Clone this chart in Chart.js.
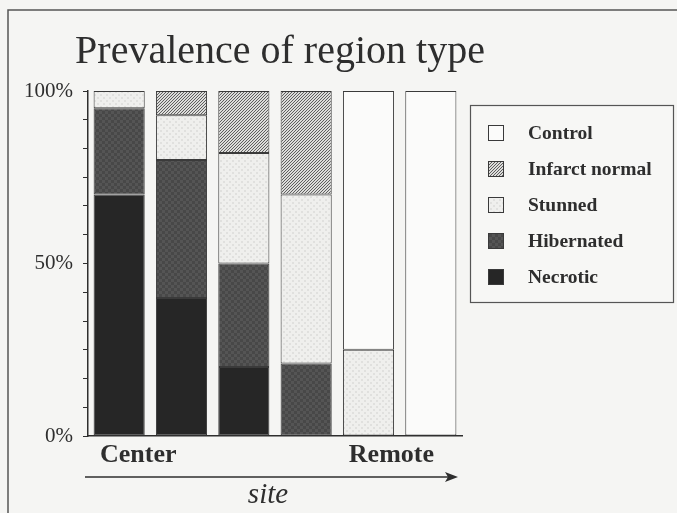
<!DOCTYPE html>
<html>
<head>
<meta charset="utf-8">
<script src="https://cdn.jsdelivr.net/npm/chart.js@4/dist/chart.umd.min.js"></script>
<style>
html,body{margin:0;padding:0;background:#f5f5f3;}
canvas{display:block;}
</style>
</head>
<body>
<canvas id="c" width="677" height="513"></canvas>
<script>
// ---- data ----
const categories = ['1', '2', '3', '4', '5', '6'];
const necrotic     = [70, 40, 20, 0, 0, 0];
const hibernated   = [25, 40, 30, 21, 0, 0];
const stunned      = [5, 13, 32, 49, 25, 0];
const infarctNormal= [0, 7, 18, 30, 0, 0];
const control      = [0, 0, 0, 0, 75, 100];
const yTickLabels  = {0: '0%', 50: '50%', 100: '100%'};
const titleText = 'Prevalence of region type';
const leftLabel = 'Center';
const rightLabel = 'Remote';
const axisTitle = 'site';

// ---- patterns ----
function makePattern(size, draw) {
  const c = document.createElement('canvas');
  c.width = size; c.height = size;
  const g = c.getContext('2d');
  draw(g, size);
  return document.getElementById('c').getContext('2d').createPattern(c, 'repeat');
}
const hatch = makePattern(3, (g, s) => {
  g.fillStyle = '#dcdcda'; g.fillRect(0, 0, s, s);
  g.fillStyle = '#5e5e5e';
  for (let i = 0; i < s; i++) g.fillRect(s - 1 - i, i, 1, 1);
});
const checker = makePattern(6, (g, s) => {
  g.fillStyle = '#484848'; g.fillRect(0, 0, s, s);
  g.fillStyle = '#555555'; g.fillRect(0, 0, 3, 3); g.fillRect(3, 3, 3, 3);
});
const dots = makePattern(6, (g, s) => {
  g.fillStyle = '#efefed'; g.fillRect(0, 0, s, s);
  g.fillStyle = '#e0e0de'; g.fillRect(1, 1, 2, 2); g.fillRect(4, 4, 2, 2);
});

const SERIF = '"Liberation Serif", "Times New Roman", serif';
const INK = '#2e2e2e';

const datasets = [
  {label: 'Necrotic', data: necrotic, backgroundColor: '#262626'},
  {label: 'Hibernated', data: hibernated, backgroundColor: checker},
  {label: 'Stunned', data: stunned, backgroundColor: dots},
  {label: 'Infarct normal', data: infarctNormal, backgroundColor: hatch},
  {label: 'Control', data: control, backgroundColor: '#fbfbfa'}
].map(d => Object.assign(d, {
  borderColor: '#3a3a3a',
  borderWidth: ctx => (ctx.raw ? 1 : 0),
  borderSkipped: false,
  categoryPercentage: 1,
  barPercentage: 0.82
}));

const decor = {
  id: 'decor',
  beforeDraw(chart) {
    const ctx = chart.ctx;
    ctx.save();
    ctx.fillStyle = '#f5f5f3';
    ctx.fillRect(0, 0, chart.width, chart.height);
    ctx.strokeStyle = '#555';
    ctx.lineWidth = 1.5;
    ctx.beginPath();
    ctx.moveTo(8, chart.height);
    ctx.lineTo(8, 10);
    ctx.lineTo(chart.width, 10);
    ctx.stroke();
    ctx.restore();
  },
  afterDraw(chart) {
    const ctx = chart.ctx;
    const a = chart.chartArea;
    ctx.save();
    ctx.fillStyle = INK;
    ctx.font = '40px ' + SERIF;
    ctx.textAlign = 'center';
    ctx.textBaseline = 'alphabetic';
    ctx.fillText(titleText, 280, 63);
    ctx.font = 'bold 26px ' + SERIF;
    ctx.textAlign = 'left';
    ctx.fillText(leftLabel, a.left + 12, 462);
    ctx.textAlign = 'right';
    ctx.fillText(rightLabel, a.right - 28, 462);
    ctx.strokeStyle = INK;
    ctx.lineWidth = 1.6;
    ctx.beginPath();
    ctx.moveTo(a.left - 3, 477);
    ctx.lineTo(a.right - 8, 477);
    ctx.stroke();
    ctx.beginPath();
    ctx.moveTo(a.right - 4, 477);
    ctx.lineTo(a.right - 17, 472);
    ctx.lineTo(a.right - 14, 477);
    ctx.lineTo(a.right - 17, 482);
    ctx.closePath();
    ctx.fill();
    ctx.font = 'italic 29px ' + SERIF;
    ctx.textAlign = 'center';
    ctx.fillText(axisTitle, 268, 503);
    // legend
    const lx = 470, ly = 105, lw = 203, lh = 197;
    ctx.fillStyle = '#f7f7f5';
    ctx.fillRect(lx, ly, lw, lh);
    ctx.strokeStyle = '#555';
    ctx.lineWidth = 1.2;
    ctx.strokeRect(lx + 0.5, ly + 0.5, lw, lh);
    const ds = chart.data.datasets.slice().reverse();
    ctx.font = 'bold 19.5px ' + SERIF;
    ctx.textAlign = 'left';
    ctx.textBaseline = 'middle';
    ds.forEach((d, i) => {
      const cy = 133 + i * 36;
      ctx.fillStyle = d.backgroundColor;
      ctx.fillRect(488, cy - 8, 16, 16);
      ctx.strokeStyle = '#3a3a3a';
      ctx.lineWidth = 1;
      ctx.strokeRect(488.5, cy - 7.5, 15, 15);
      ctx.fillStyle = INK;
      ctx.fillText(d.label, 528, cy + 1);
    });
    ctx.restore();
  }
};

new Chart(document.getElementById('c'), {
  type: 'bar',
  data: {labels: categories, datasets},
  options: {
    responsive: false,
    animation: false,
    layout: {padding: {top: 91, right: 215, left: 0, bottom: 0}},
    plugins: {legend: {display: false}, tooltip: {enabled: false}, title: {display: false}},
    scales: {
      x: {
        stacked: true,
        offset: true,
        grid: {display: false},
        border: {display: true, color: INK, width: 1.5},
        ticks: {display: false},
        afterFit: s => { s.height = 77; }
      },
      y: {
        stacked: true,
        min: 0, max: 100,
        afterBuildTicks: s => {
          s.ticks = Array.from({length: 13}, (_, i) => ({value: i * 100 / 12}));
        },
        afterFit: s => { s.width = 88; },
        grid: {drawOnChartArea: false, drawTicks: true, tickLength: 5, tickColor: INK, tickWidth: 1},
        border: {display: true, color: INK, width: 1.5},
        ticks: {
          padding: 10,
          color: INK,
          font: {family: SERIF, size: 21},
          autoSkip: false,
          callback: v => {
            for (const k in yTickLabels) if (Math.abs(v - k) < 0.01) return yTickLabels[k];
            return '';
          }
        }
      }
    }
  },
  plugins: [decor]
});
</script>
</body>
</html>
